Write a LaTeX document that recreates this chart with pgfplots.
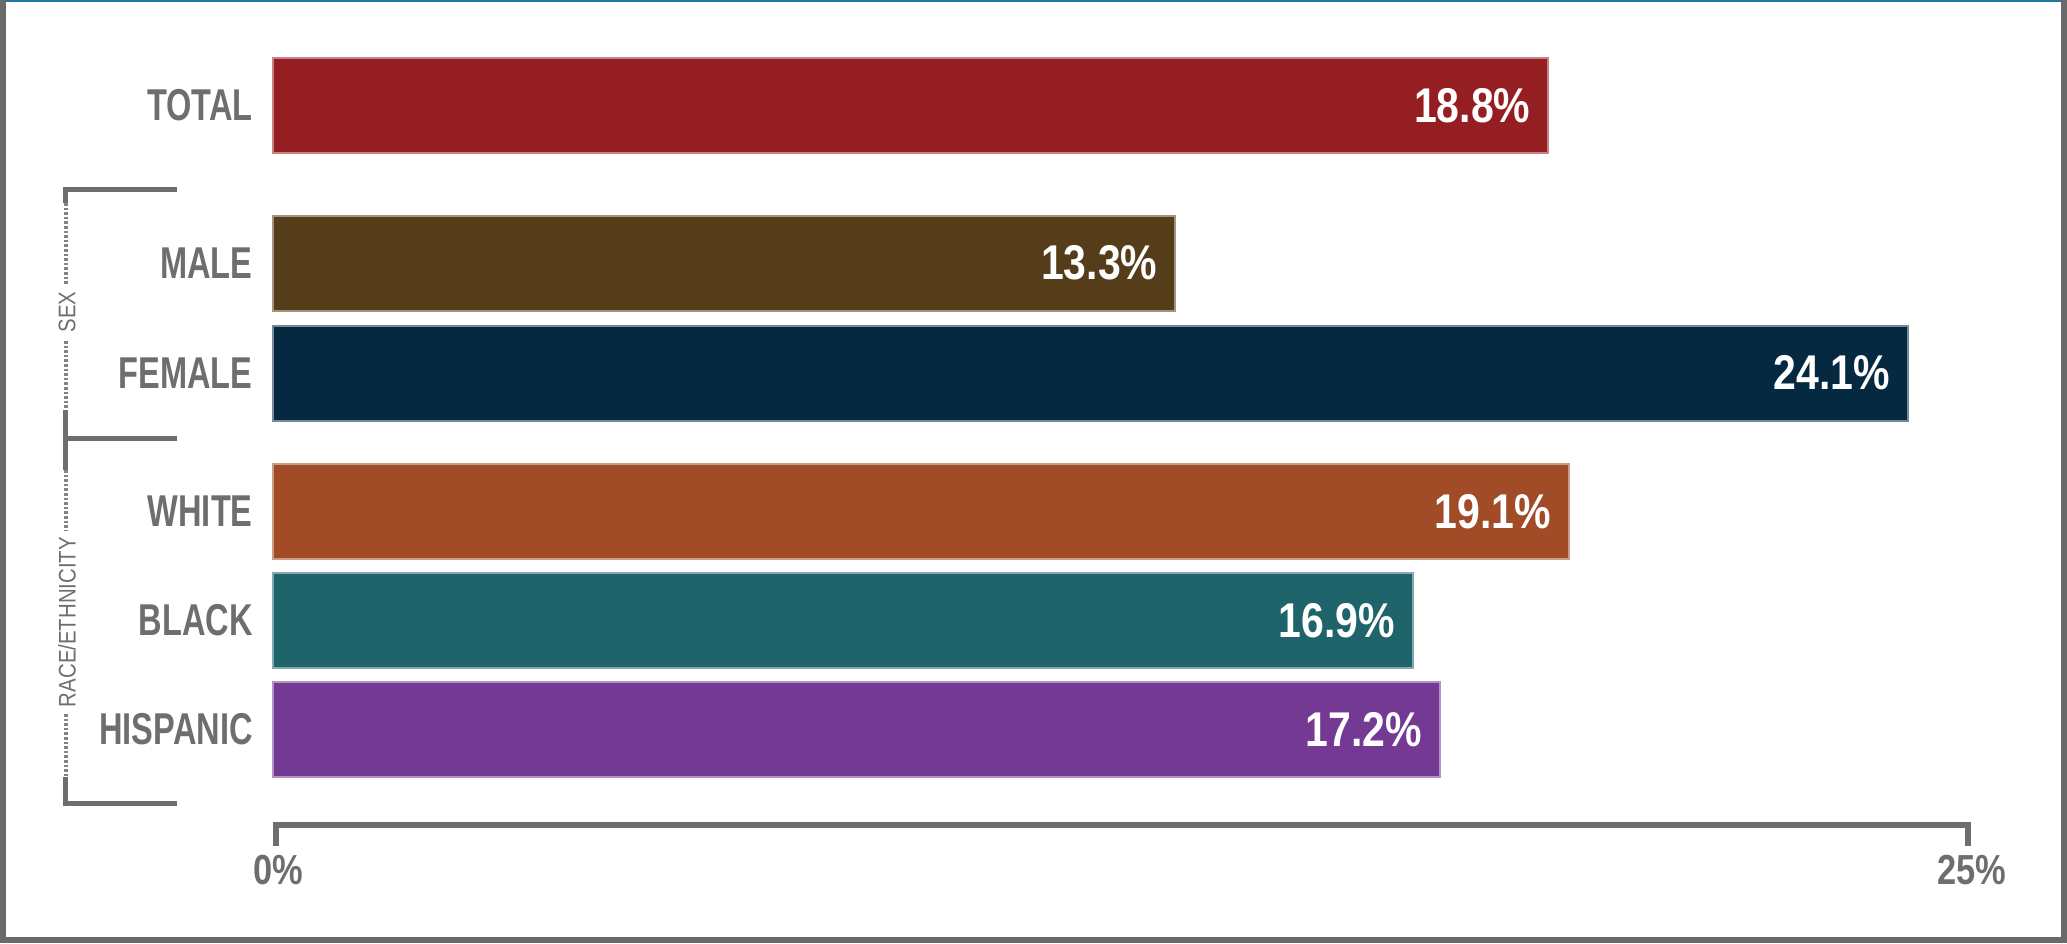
\documentclass[border=0pt]{standalone}
\usepackage{pgfplots}
\pgfplotsset{compat=1.18}
\usepackage{fontspec}
\setmainfont{Liberation Sans}
\newfontfamily\catfont[FakeStretch=0.73]{Liberation Sans}
\newfontfamily\valfont[FakeStretch=0.84]{Liberation Sans}
\newfontfamily\tickfont[FakeStretch=0.82]{Liberation Sans}
\newfontfamily\grpfont[FakeStretch=0.85]{Liberation Sans}
\definecolor{cTotal}{HTML}{951E22}
\definecolor{cMale}{HTML}{563D1A}
\definecolor{cFemale}{HTML}{042940}
\definecolor{cWhite}{HTML}{A14B27}
\definecolor{cBlack}{HTML}{1F636B}
\definecolor{cHisp}{HTML}{743993}
\definecolor{labgray}{HTML}{6E6E6E}
\definecolor{framegray}{HTML}{6A6A6A}
\definecolor{frameteal}{HTML}{1F7A99}
\begin{document}
\begin{tikzpicture}
\useasboundingbox (-136.5pt,-59pt) rectangle (897pt,412.5pt);
\begin{axis}[
  at={(0,0)}, anchor=south west,
  scale only axis, width=848pt, height=412.5pt,
  xmin=0, xmax=25, ymin=0, ymax=8.25, y dir=reverse,
  hide axis, clip=false,
  xbar, bar width=0.95, bar shift=0pt,
  point meta=explicit symbolic,
  nodes near coords={\pgfplotspointmeta\%},
  nodes near coords style={anchor=east, xshift=-8.5pt, inner sep=0pt,
    font=\valfont\bfseries\fontsize{24.4}{26}\selectfont, text=white},
]
\addplot[bar shift=0pt, fill=cTotal, draw=cTotal!55!white, line width=1pt] coordinates {(18.8,1.055)[18.8]};
\addplot[bar shift=0pt, fill=cMale, draw=cMale!55!white, line width=1pt] coordinates {(13.3,2.63)[13.3]};
\addplot[bar shift=0pt, fill=cFemale, draw=cFemale!55!white, line width=1pt] coordinates {(24.1,3.73)[24.1]};
\addplot[bar shift=0pt, fill=cWhite, draw=cWhite!55!white, line width=1pt] coordinates {(19.1,5.115)[19.1]};
\addplot[bar shift=0pt, fill=cBlack, draw=cBlack!55!white, line width=1pt] coordinates {(16.8,6.205)[16.9]};
\addplot[bar shift=0pt, fill=cHisp, draw=cHisp!55!white, line width=1pt] coordinates {(17.2,7.295)[17.2]};
\end{axis}
\begin{scope}[x=0.5pt, y=-0.5pt, shift={(-136.5pt,412.5pt)}]
  % frame
  \fill[frameteal] (0,0) rectangle (2067,2);
  \fill[framegray] (0,0) rectangle (6,943);
  \fill[framegray] (2061,0) rectangle (2067,943);
  \fill[framegray] (0,937) rectangle (2067,943);
  % category labels
  \begin{scope}[every node/.style={anchor=east, inner sep=0pt, text=labgray,
      font=\catfont\bfseries\fontsize{22.3}{24}\selectfont}]
    \node at (253,105.5) {TOTAL};
    \node at (253,263) {MALE};
    \node at (253,373) {FEMALE};
    \node at (253,511.5) {WHITE};
    \node at (253,620.5) {BLACK};
    \node at (253,729.5) {HISPANIC};
  \end{scope}
  % x axis bracket
  \draw[labgray, line width=3pt, line join=miter] (276,846) -- (276,825) -- (1968,825) -- (1968,846);
  \begin{scope}[every node/.style={inner sep=0pt, text=labgray,
      font=\tickfont\bfseries\fontsize{21}{23}\selectfont}]
    \node at (278,870) {0\%};
    \node at (1972,870) {25\%};
  \end{scope}
  % group bracket
  \draw[labgray, line width=2.5pt, line join=miter] (177,190) -- (66,190) -- (66,203);
  \draw[labgray, line width=2.5pt] (66,410) -- (66,470);
  \draw[labgray, line width=2.5pt] (66,439) -- (177,439);
  \draw[labgray, line width=2.5pt, line join=miter] (66,777) -- (66,803) -- (177,803);
  \draw[labgray!85, line width=1.8pt, dash pattern=on 1.3pt off 1pt] (66,203) -- (66,284);
  \draw[labgray!85, line width=1.8pt, dash pattern=on 1.3pt off 1pt] (66,341) -- (66,410);
  \draw[labgray!85, line width=1.8pt, dash pattern=on 1.3pt off 1pt] (66,470) -- (66,530);
  \draw[labgray!85, line width=1.8pt, dash pattern=on 1.3pt off 1pt] (66,714) -- (66,777);
  \begin{scope}[every node/.style={rotate=90, inner sep=0pt, text=labgray,
      font=\grpfont\fontsize{12}{13}\selectfont}]
    \node at (67,312) {SEX};
    \node at (67,622) {RACE/ETHNICITY};
  \end{scope}
\end{scope}
\end{tikzpicture}
\end{document}
